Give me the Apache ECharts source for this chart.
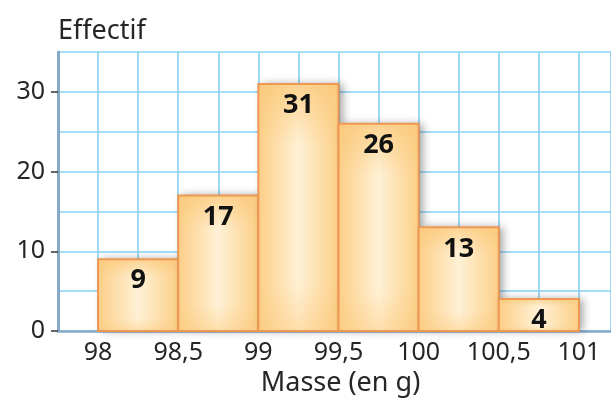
<!DOCTYPE html>
<html><head><meta charset="utf-8">
<script src="https://cdn.jsdelivr.net/npm/echarts@6/dist/echarts.min.js"></script>
<style>html,body{margin:0;padding:0;background:#fff}#c{width:611px;height:407px}</style>
</head><body><div id="c"></div>
<script>
var binStarts = [98, 98.5, 99, 99.5, 100, 100.5];
var binEnds = [98.5, 99, 99.5, 100, 100.5, 101];
var counts = [9, 17, 31, 26, 13, 4];
var xTickLabels = ['98', '98,5', '99', '99,5', '100', '100,5', '101'];
var yTickLabels = ['0', '10', '20', '30'];

var data = binStarts.map(function (s, i) { return [s, binEnds[i], counts[i]]; });
var font = "'Noto Sans', 'Open Sans', sans-serif";
var gridColor = '#88d0f3';
var axisColor = '#86a9c8';
var textColor = '#262626';

function xLabel(v) {
  var r = Math.round(v * 2) / 2;
  if (Math.abs(r - v) > 1e-6 || v < 97.9 || v > 101.01) return '';
  var s = (Math.round(v * 10) / 10).toString().replace('.', ',');
  return xTickLabels.indexOf(s) >= 0 ? s : '';
}
function yLabel(v) {
  var s = String(v);
  return yTickLabels.indexOf(s) >= 0 ? s : '';
}

var chart = echarts.init(document.getElementById('c'));
chart.setOption({
  animation: false,
  grid: { left: 58, top: 52, right: 0, bottom: 76, containLabel: false },
  xAxis: [{
    type: 'value', min: 97.75, max: 101.2, interval: 0.25,
    axisLine: { show: true, lineStyle: { color: axisColor, width: 2.5 } },
    axisTick: { show: false },
    splitLine: { show: true, lineStyle: { color: gridColor, width: 1.6 } },
    axisLabel: { formatter: xLabel, color: textColor, fontSize: 25, fontFamily: font, margin: 9, showMaxLabel: false },
    name: 'Masse (en g)', nameLocation: 'middle', nameGap: 38,
    nameTextStyle: { color: textColor, fontSize: 27, fontFamily: font, padding: [0, 0, 0, 12] }
  }],
  yAxis: [{
    type: 'value', min: 0, max: 35, interval: 5,
    axisLine: { show: true, lineStyle: { color: axisColor, width: 3 } },
    axisTick: { show: false },
    axisLabel: { show: false },
    splitLine: { show: true, lineStyle: { color: gridColor, width: 1.6 } },
    name: 'Effectif', nameLocation: 'end', nameGap: 7,
    nameTextStyle: { color: textColor, fontSize: 27, fontFamily: font, align: 'left', padding: [0, 0, 0, 0] }
  }, {
    type: 'value', min: 0, max: 35, interval: 10, position: 'left',
    axisLine: { show: false },
    axisTick: { show: true, length: 7, lineStyle: { color: '#333', width: 1.5 } },
    splitLine: { show: false },
    axisLabel: { formatter: yLabel, color: textColor, fontSize: 25, fontFamily: font, margin: 13, showMaxLabel: false }
  }],
  series: [{
    type: 'custom',
    xAxisIndex: 0, yAxisIndex: 0,
    data: data,
    encode: { x: [0, 1], y: 2 },
    renderItem: function (params, api) {
      var p0 = api.coord([api.value(0), 0]);
      var p1 = api.coord([api.value(1), api.value(2)]);
      var shape = { x: p0[0], y: p1[1], width: p1[0] - p0[0], height: p0[1] - p1[1] };
      return {
        type: 'group',
        children: [{
          type: 'rect',
          shape: shape,
          style: {
            fill: {
              type: 'linear', x: 0, y: 0, x2: 1, y2: 0,
              colorStops: [{ offset: 0, color: '#fccf88' }, { offset: 0.5, color: '#fff1d6' }, { offset: 1, color: '#fccf88' }]
            },
            shadowBlur: 8, shadowOffsetX: 4, shadowOffsetY: 0, shadowColor: 'rgba(0,0,0,0.35)'
          }
        }, {
          type: 'rect',
          shape: shape,
          style: {
            fill: {
              type: 'linear', x: 0, y: 0, x2: 0, y2: 1,
              colorStops: [
                { offset: 0, color: 'rgba(251,200,120,0.75)' },
                { offset: 0.25, color: 'rgba(251,200,120,0)' },
                { offset: 0.8, color: 'rgba(251,200,120,0)' },
                { offset: 1, color: 'rgba(251,200,120,0.45)' }
              ]
            },
            stroke: '#ee9853', lineWidth: 2
          }
        }, {
          type: 'text',
          style: {
            text: String(api.value(2)),
            x: (p0[0] + p1[0]) / 2, y: p1[1] + 8,
            align: 'center', verticalAlign: 'top',
            fill: '#111', fontSize: 27, fontWeight: 'bold', fontFamily: font
          }
        }]
      };
    }
  }]
});
</script></body></html>
